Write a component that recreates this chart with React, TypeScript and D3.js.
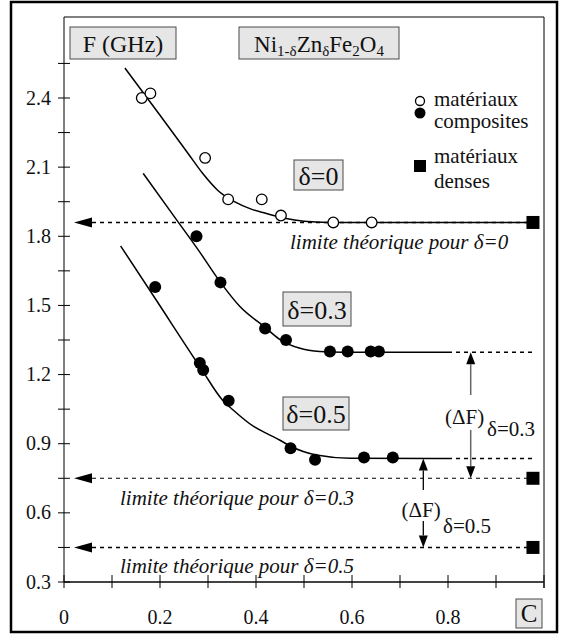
import React from "react";
import * as d3 from "d3";

// ---- data (C, F in GHz) ----
const openPts: [number, number][] = [
  [0.162, 2.4], [0.18, 2.42], [0.294, 2.14], [0.342, 1.96], [0.412, 1.96],
  [0.452, 1.89], [0.561, 1.86], [0.641, 1.86],
];
const filled03: [number, number][] = [
  [0.276, 1.8], [0.326, 1.6], [0.419, 1.4], [0.4625, 1.35], [0.554, 1.3],
  [0.591, 1.3], [0.639, 1.3], [0.656, 1.3],
];
const filled05: [number, number][] = [
  [0.19, 1.58], [0.283, 1.25], [0.29, 1.22], [0.343, 1.086], [0.472, 0.88],
  [0.523, 0.83], [0.625, 0.84], [0.685, 0.84],
];
const densePts: [number, number][] = [[0.977, 1.86], [0.977, 0.75], [0.977, 0.45]];

const curve0: [number, number][] = [
  [0.127, 2.53], [0.2, 2.325], [0.26, 2.155], [0.29, 2.07], [0.32, 2.0],
  [0.355, 1.95], [0.39, 1.918], [0.42, 1.9], [0.46, 1.878], [0.5, 1.865],
  [0.55, 1.86], [0.977, 1.86],
];
const curve03: [number, number][] = [
  [0.165, 2.073], [0.235, 1.87], [0.28, 1.74], [0.326, 1.6], [0.367, 1.494],
  [0.419, 1.405], [0.45, 1.352], [0.49, 1.315], [0.533, 1.3], [0.58, 1.297],
  [0.8, 1.297],
];
const curve05: [number, number][] = [
  [0.118, 1.758], [0.19, 1.53], [0.286, 1.225], [0.33, 1.09], [0.353, 1.045],
  [0.395, 0.975], [0.422, 0.945], [0.45, 0.915], [0.471, 0.89], [0.526, 0.851],
  [0.596, 0.837], [0.8, 0.836],
];
const asym03 = 1.297;
const asym05 = 0.836;
const limits = [1.86, 0.75, 0.45];

const yTickMajor = [0.3, 0.6, 0.9, 1.2, 1.5, 1.8, 2.1, 2.4];
const yTickAll = [0.3, 0.45, 0.6, 0.75, 0.9, 1.05, 1.2, 1.35, 1.5, 1.65, 1.8, 1.95, 2.1, 2.25, 2.4, 2.55];
const xTickMajor = [0, 0.2, 0.4, 0.6, 0.8];
const xTickAll = [0, 0.1, 0.2, 0.3, 0.4, 0.5, 0.6, 0.7, 0.8, 0.9, 1.0];

const FONT = "Liberation Serif";
const CSS = `svg text, svg tspan { font-family: "Liberation Serif" !important; }`;

export default function App() {
  const x = d3.scaleLinear().domain([0, 1]).range([64, 544]);
  const y = d3.scaleLinear().domain([0.3, 2.4]).range([582, 98]);
  const line = d3
    .line<[number, number]>()
    .x((d) => x(d[0]))
    .y((d) => y(d[1]))
    .curve(d3.curveMonotoneX);

  const boxFill = "#e6e6e6";
  const boxStroke = "#4a4a4a";
  const xEnd = x(0.977);

  const leftArrow = (yy: number, key: string) => (
    <path key={key} d={`M74,${yy} L92,${yy - 5} L92,${yy + 5} Z`} fill="#000" />
  );
  const upHead = (xx: number, yy: number) =>
    `M${xx},${yy} L${xx - 4.5},${yy + 12} L${xx + 4.5},${yy + 12} Z`;
  const downHead = (xx: number, yy: number) =>
    `M${xx},${yy} L${xx - 4.5},${yy - 12} L${xx + 4.5},${yy - 12} Z`;

  const a3x = 470.7;
  const a5x = 423.3;

  return (
    <div style={{ position: "absolute", left: 0, top: 0, width: 561, height: 641, background: "#fff" }}>
      <style>{CSS}</style>
      <svg width={561} height={641} style={{ display: "block" }} fontFamily={FONT}>
        <rect x={0} y={0} width={561} height={641} fill="#fff" />
        {/* outer frame */}
        <rect x={11} y={2} width={546} height={630} fill="none" stroke="#000" strokeWidth={2.5} />
        {/* inner frame */}
        <path d={`M64,582 L64,17 L544,17 L544,588`} fill="none" stroke="#000" strokeWidth={1} />
        {/* x axis */}
        <line x1={64} x2={544} y1={582} y2={582} stroke="#444" strokeWidth={2.2} />
        {xTickAll.map((t) => (
          <line key={"xt" + t} x1={x(t)} x2={x(t)} y1={575} y2={588} stroke="#000" strokeWidth={1} />
        ))}
        {xTickMajor.map((t) => (
          <text key={"xl" + t} fontFamily={FONT} x={x(t)} y={624} fontSize={20} textAnchor="middle" fill="#111">
            {t === 0 ? "0" : t.toFixed(1)}
          </text>
        ))}
        {yTickAll.map((t) => (
          <line key={"yt" + t} x1={58} x2={70} y1={y(t)} y2={y(t)} stroke="#000" strokeWidth={1} />
        ))}
        {yTickMajor.map((t) => (
          <text key={"yl" + t} fontFamily={FONT} x={51} y={y(t) + 6.5} fontSize={20} textAnchor="end" fill="#111">
            {t.toFixed(1)}
          </text>
        ))}

        {/* axis title boxes */}
        <rect x={70} y={27} width={106} height={32} fill={boxFill} stroke={boxStroke} strokeWidth={1} />
        <text fontFamily={FONT} x={123} y={52} fontSize={24} textAnchor="middle" fill="#111">F (GHz)</text>
        <rect x={239} y={27} width={160} height={32} fill={boxFill} stroke={boxStroke} strokeWidth={1} />
        <text fontFamily={FONT} x={319} y={52} fontSize={23} textAnchor="middle" fill="#111">
          Ni<tspan fontSize={15} dy={4}>1-δ</tspan>
          <tspan dy={-4}>Zn</tspan>
          <tspan fontSize={15} dy={4}>δ</tspan>
          <tspan dy={-4}>Fe</tspan>
          <tspan fontSize={15} dy={4}>2</tspan>
          <tspan dy={-4}>O</tspan>
          <tspan fontSize={15} dy={4}>4</tspan>
        </text>
        <rect x={516} y={599} width={26} height={29} fill={boxFill} stroke={boxStroke} strokeWidth={1} />
        <text fontFamily={FONT} x={529} y={622} fontSize={25} textAnchor="middle" fill="#111">C</text>

        {/* legend */}
        <circle cx={420} cy={101} r={4.5} fill="#fff" stroke="#000" strokeWidth={1.3} />
        <circle cx={420} cy={113} r={5.5} fill="#000" />
        <text fontFamily={FONT} x={434} y={106} fontSize={21} fill="#111">matériaux</text>
        <text fontFamily={FONT} x={434} y={128} fontSize={21} fill="#111">composites</text>
        <text fontFamily={FONT} x={434} y={163} fontSize={21} fill="#111">matériaux</text>
        <text fontFamily={FONT} x={434} y={188} fontSize={21} fill="#111">denses</text>
        <rect x={414} y={160} width={12} height={12} fill="#000" />

        {/* theoretical limits */}
        {limits.map((l, i) => (
          <g key={"lim" + i}>
            <line
              x1={92}
              x2={xEnd}
              y1={y(l)}
              y2={y(l)}
              stroke="#000"
              strokeWidth={i === 1 ? 1.1 : 1.6}
              strokeDasharray="4 4"
            />
            {leftArrow(y(l), "la" + i)}
          </g>
        ))}
        <text fontFamily={FONT} fontStyle="italic" x={290} y={249} fontSize={21} fill="#111">limite théorique pour δ=0</text>
        <text fontFamily={FONT} fontStyle="italic" x={120} y={505} fontSize={21} fill="#111">limite théorique pour δ=0.3</text>
        <text fontFamily={FONT} fontStyle="italic" x={120} y={573} fontSize={21} fill="#111">limite théorique pour δ=0.5</text>

        {/* asymptote extensions */}
        <line x1={x(0.8)} x2={xEnd} y1={y(asym03)} y2={y(asym03)} stroke="#000" strokeWidth={1.6} strokeDasharray="4 4" />
        <line x1={x(0.8)} x2={xEnd} y1={y(asym05)} y2={y(asym05)} stroke="#000" strokeWidth={1.6} strokeDasharray="4 4" />

        {/* fitted curves */}
        <path d={line(curve0) || ""} fill="none" stroke="#000" strokeWidth={1.5} />
        <path d={line(curve03) || ""} fill="none" stroke="#000" strokeWidth={1.5} />
        <path d={line(curve05) || ""} fill="none" stroke="#000" strokeWidth={1.5} />

        {/* data points */}
        {openPts.map((p, i) => (
          <circle key={"o" + i} cx={x(p[0])} cy={y(p[1])} r={5.3} fill="#fff" stroke="#000" strokeWidth={1.3} />
        ))}
        {filled03.map((p, i) => (
          <circle key={"f3" + i} cx={x(p[0])} cy={y(p[1])} r={6} fill="#000" />
        ))}
        {filled05.map((p, i) => (
          <circle key={"f5" + i} cx={x(p[0])} cy={y(p[1])} r={6} fill="#000" />
        ))}
        {densePts.map((p, i) => (
          <rect key={"d" + i} x={x(p[0]) - 6.5} y={y(p[1]) - 6.5} width={13} height={13} fill="#000" />
        ))}

        {/* delta boxes */}
        <rect x={294} y={160} width={49} height={30} fill={boxFill} stroke={boxStroke} strokeWidth={1} />
        <rect x={283} y={292} width={68} height={34} fill={boxFill} stroke={boxStroke} strokeWidth={1} />
        <rect x={283} y={397} width={66} height={33} fill={boxFill} stroke={boxStroke} strokeWidth={1} />
        <text fontFamily={FONT} x={318.5} y={185} fontSize={26} textAnchor="middle" fill="#111">δ=0</text>
        <text fontFamily={FONT} x={317} y={319} fontSize={26} textAnchor="middle" fill="#111">δ=0.3</text>
        <text fontFamily={FONT} x={316} y={423} fontSize={26} textAnchor="middle" fill="#111">δ=0.5</text>

        {/* ΔF arrow δ=0.3 */}
        <line x1={a3x} x2={a3x} y1={y(asym03) + 12} y2={395} stroke="#666" strokeWidth={1.5} />
        <line x1={a3x} x2={a3x} y1={430} y2={y(0.75) - 12} stroke="#666" strokeWidth={1.5} />
        <path d={upHead(a3x, y(asym03))} fill="#000" />
        <path d={downHead(a3x, y(0.75))} fill="#000" />
        <text fontFamily={FONT} x={445} y={424} fontSize={21} fill="#111">(ΔF)</text>
        <text fontFamily={FONT} x={487} y={436} fontSize={21} fill="#111">δ=0.3</text>

        {/* ΔF arrow δ=0.5 */}
        <line x1={a5x} x2={a5x} y1={y(asym05) + 12} y2={490} stroke="#000" strokeWidth={1.3} />
        <line x1={a5x} x2={a5x} y1={521} y2={y(0.45) - 12} stroke="#000" strokeWidth={1.3} />
        <path d={upHead(a5x, y(asym05))} fill="#000" />
        <path d={downHead(a5x, y(0.45))} fill="#000" />
        <text fontFamily={FONT} x={401.5} y={517} fontSize={21} fill="#111">(ΔF)</text>
        <text fontFamily={FONT} x={443} y={533} fontSize={21} fill="#111">δ=0.5</text>
      </svg>
    </div>
  );
}
